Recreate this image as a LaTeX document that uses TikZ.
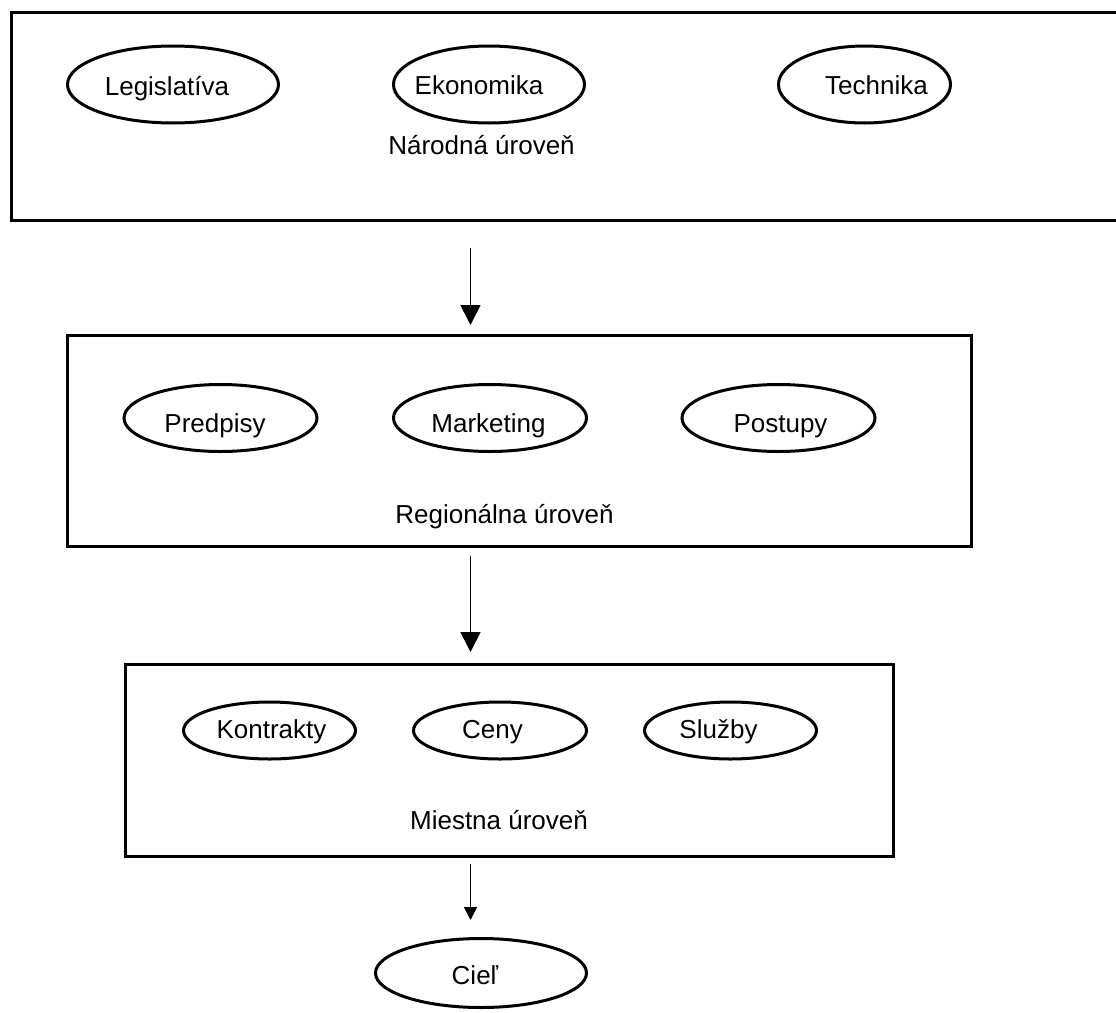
\documentclass[tikz,border=0pt]{standalone}
\usepackage{fontspec}
\setmainfont{Liberation Sans}
\usetikzlibrary{shapes.geometric,arrows.meta}
\tikzset{
  levelbox/.style={draw=black, line width=3pt, rectangle, inner sep=0pt},
  oval/.style={draw=black, line width=3pt, ellipse, inner sep=0pt},
  lab/.style={anchor=base, inner sep=0pt, font=\fontsize{26}{30}\selectfont},
  arr/.style={line width=1.6pt, -{Triangle[length=20pt,width=20pt]}},
  arrsmall/.style={line width=1.6pt, -{Triangle[length=13pt,width=13pt]}}
}
\begin{document}
\begin{tikzpicture}[x=1pt,y=-1pt]
\clip (0,0) rectangle (1116,1012);
\fill[white] (0,0) rectangle (1116,1012);

% level boxes
\node[levelbox, minimum width=1114pt, minimum height=208.5pt] (nat) at (568,116.25) {};
\node[levelbox, minimum width=904pt, minimum height=211pt] (reg) at (519,440.5) {};
\node[levelbox, minimum width=768pt, minimum height=192pt] (loc) at (509.5,760) {};

% national level
\node[oval, minimum width=211pt, minimum height=77pt] (leg) at (173,84.5) {};
\node[oval, minimum width=191pt, minimum height=77pt] (eko) at (489,84.5) {};
\node[oval, minimum width=172pt, minimum height=77pt] (tech) at (864.5,84.5) {};
\node[lab] (legt) at (167,95) {Legislatíva};
\node[lab] (ekot) at (479,94.5) {Ekonomika};
\node[lab] (techt) at (876.5,94) {Technika};
\node[lab] (natt) at (481.5,154) {Národná úroveň};

% regional level
\node[oval, minimum width=193pt, minimum height=67pt] (pred) at (220.5,418) {};
\node[oval, minimum width=193pt, minimum height=67pt] (mark) at (490,418) {};
\node[oval, minimum width=193pt, minimum height=67pt] (post) at (778.5,418) {};
\node[lab] (predt) at (215,432) {Predpisy};
\node[lab] (markt) at (488.5,432) {Marketing};
\node[lab] (postt) at (780.5,432) {Postupy};
\node[lab] (regt) at (504.5,523.5) {Regionálna úroveň};

% local level
\node[oval, minimum width=172pt, minimum height=57pt] (kon) at (269.5,730.5) {};
\node[oval, minimum width=173pt, minimum height=57pt] (ceny) at (500,730.5) {};
\node[oval, minimum width=172pt, minimum height=57pt] (sluz) at (730.5,730.5) {};
\node[lab] (kont) at (271.5,738) {Kontrakty};
\node[lab] (cenyt) at (492.5,738) {Ceny};
\node[lab] (sluzt) at (718.5,738) {Služby};
\node[lab] (loct) at (499,829) {Miestna úroveň};

% goal
\node[oval, minimum width=211pt, minimum height=69pt] (ciel) at (481,973) {};
\node[lab] (cielt) at (475,984) {Cieľ};

% connectors
\coordinate (a1s) at (470.5,248);
\coordinate (a1e) at (470.5,325);
\coordinate (a2s) at (470.5,556);
\coordinate (a2e) at (470.5,652);
\coordinate (a3s) at (470.5,864);
\coordinate (a3e) at (470.5,920);
\draw[arr] (a1s) -- (a1e);
\draw[arr] (a2s) -- (a2e);
\draw[arrsmall] (a3s) -- (a3e);
\end{tikzpicture}
\end{document}
